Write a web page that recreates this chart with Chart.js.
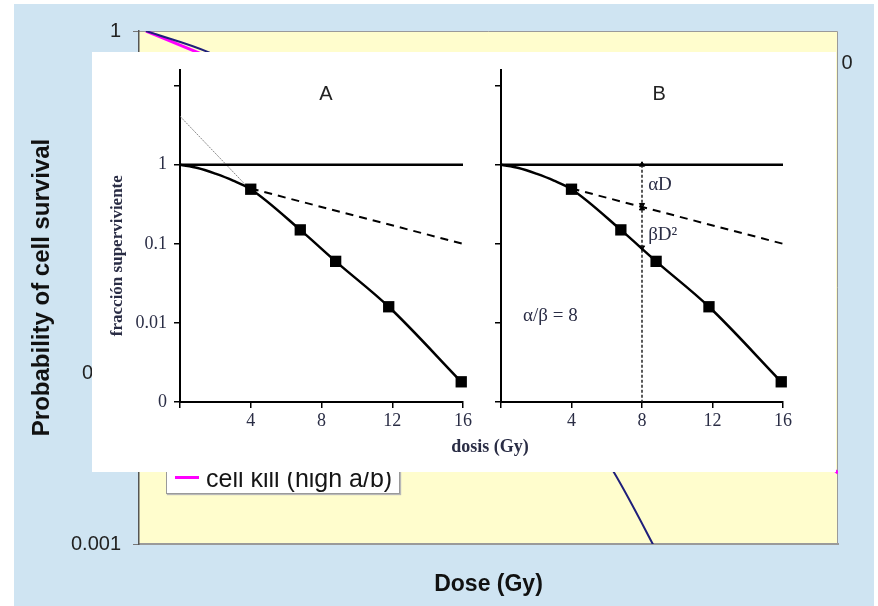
<!DOCTYPE html>
<html lang="es">
<head>
<meta charset="UTF-8">
<title>Probability of cell survival</title>
<script src="https://cdn.jsdelivr.net/npm/chart.js"></script>
<style>
  body { margin: 0; width: 878px; height: 606px; background: #fff; position: relative; overflow: hidden;
         font-family: "Liberation Sans", Arial, sans-serif; }
  #back { position: absolute; left: 14px; top: 4px; width: 860px; height: 602px; background: #cfe4f2; }
  #legend { position: absolute; left: 166px; top: 420px; width: 232px; height: 72px; background: #fff;
            border: 1px solid #9a9a9a; box-shadow: 1px 1px 1px #b8b8b8; }
  #legend .row { position: absolute; left: 39px; font-size: 25px; line-height: 30px; color: #151515; white-space: nowrap; }
  #legend .sw { position: absolute; left: 8px; width: 24px; height: 3px; }
  #overlay { position: absolute; left: 92px; top: 52px; width: 744px; height: 420px; background: #fff; }
  #overlay canvas { position: absolute; top: 0; }
  #dosis { position: absolute; left: 338px; top: 384px; width: 120px; text-align: center; line-height: 22px;
           font: bold 18px "Liberation Serif", "Times New Roman", serif; color: #2a2d45; }
</style>
</head>
<body>
  <div id="back"><canvas id="backChart" width="860" height="602"></canvas></div>

  <div id="legend">
    <div class="sw" style="top:25px;background:#1f1f7a"></div>
    <div class="row" style="top:12px">cell kill (low a/b)</div>
    <div class="sw" style="top:55px;background:#ff00ff"></div>
    <div class="row" style="top:42px">cell kill (high a/b)</div>
  </div>

  <div id="overlay">
    <canvas id="panelA" width="388" height="420" style="left:0"></canvas>
    <canvas id="panelB" width="356" height="420" style="left:388px"></canvas>
    <div id="dosis">dosis (Gy)</div>
  </div>

<script>
// background chart: survival vs dose
const lowDose  = [0.1, 1, 2, 3, 4, 5, 6, 6.8, 7.35, 8];
const lowSurv  = [1, 0.75, 0.46, 0.23, 0.092, 0.030, 0.0081, 0.0026, 0.001, 0.0003];
const highDose = [0.1, 0.76, 2, 4, 6, 8, 10];
const highSurv = [1, 0.774, 0.475, 0.18, 0.055, 0.0133, 0.0026];
const backTicks = [0.001, 0.01, 0.1, 1];

// inset panels A and B (fraccion superviviente vs dosis)
const curveDose = [0, 1, 2, 3, 4, 6.8, 8.8, 11.8, 15.9];
const curveSurv = [1, 0.91, 0.77, 0.63, 0.49, 0.15, 0.06, 0.016, 0.0018];
const measDose  = [4, 6.8, 8.8, 11.8, 15.9];
const measSurv  = [0.49, 0.15, 0.06, 0.016, 0.0018];
const alphaDose = [4, 16];
const alphaSurv = [0.5, 0.1];
const extrapDose = [0, 3.9];
const extrapSurv = [4.1, 0.5];
const unitDose = [0, 16];
const unitSurv = [1, 1];
const markDose = [8, 8];
const markSurv = [1, 0.001];
const arrowDose = [8, 8, 8, 8];
const arrowSurv = [1, 0.31, 0.28, 0.09];
const panelTicks = [0.001, 0.01, 0.1, 1, 10];
const panelTickText = { 0.001: '0', 0.01: '0.01', 0.1: '0.1', 1: '1' };

const pts = (xs, ys) => xs.map((x, i) => ({ x: x, y: ys[i] }));

// text drawn at data coordinates
function makeNotes(items) {
  return {
    id: 'notes',
    afterDatasetsDraw(chart) {
      const { ctx, scales } = chart;
      items.forEach(it => {
        ctx.save();
        ctx.font = it.font;
        ctx.fillStyle = it.color || '#2a2d45';
        ctx.textAlign = it.align || 'center';
        ctx.textBaseline = 'middle';
        ctx.translate(scales.x.getPixelForValue(it.x), scales.y.getPixelForValue(it.y));
        if (it.rotate) ctx.rotate(it.rotate * Math.PI / 180);
        ctx.fillText(it.text, 0, 0);
        ctx.restore();
      });
    }
  };
}

const plotFrame = {
  id: 'plotFrame',
  beforeDraw(chart) {
    const { ctx, chartArea: a } = chart;
    ctx.save();
    ctx.fillStyle = '#fffdcd';
    ctx.fillRect(a.left, a.top, a.width, a.height);
    ctx.strokeStyle = '#9a9a9a';
    ctx.lineWidth = 1;
    ctx.beginPath();
    ctx.moveTo(a.left, a.top + 0.5);
    ctx.lineTo(a.right - 0.5, a.top + 0.5);
    ctx.lineTo(a.right - 0.5, a.bottom);
    ctx.stroke();
    ctx.restore();
  }
};

new Chart(document.getElementById('backChart'), {
  type: 'line',
  data: {
    datasets: [
      { label: 'cell kill (low a/b)', data: pts(lowDose, lowSurv), borderColor: '#1f1f7a', borderWidth: 2,
        pointRadius: 0, cubicInterpolationMode: 'monotone' },
      { label: 'cell kill (high a/b)', data: pts(highDose, highSurv), borderColor: '#ff00ff', borderWidth: 3,
        pointRadius: 0, cubicInterpolationMode: 'monotone' }
    ]
  },
  options: {
    responsive: false,
    animation: false,
    layout: { padding: { top: 27, right: 36, left: 0, bottom: 0 } },
    plugins: { legend: { display: false }, tooltip: { enabled: false } },
    scales: {
      x: {
        type: 'linear', min: 0, max: 10,
        ticks: { display: false },
        grid: { display: false },
        border: { color: '#9a9a9a', width: 2 },
        title: { display: true, text: 'Dose (Gy)', color: '#111',
                 font: { family: 'Liberation Sans', size: 23, weight: 'bold', lineHeight: 1.2 },
                 padding: { top: 0, bottom: 8 } },
        afterFit: s => { s.height = 62; }
      },
      y: {
        type: 'logarithmic', min: 0.001, max: 1,
        afterBuildTicks: s => { s.ticks = backTicks.map(v => ({ value: v })); },
        ticks: { callback: v => String(v), color: '#222', padding: 12,
                 font: { family: 'Liberation Sans', size: 20 } },
        grid: { drawOnChartArea: false, tickLength: 6, color: '#777' },
        border: { color: '#555', width: 1.5 },
        title: { display: true, text: 'Probability of cell survival', color: '#111',
                 font: { family: 'Liberation Sans', size: 24, weight: 'bold', lineHeight: 1.2 },
                 padding: { top: 13.6, bottom: 0 } },
        afterFit: s => { s.width = 125; }
      }
    }
  },
  plugins: [plotFrame, makeNotes([
    { text: '0', x: 10.05, y: 0.65, align: 'left', color: '#222', font: '20px "Liberation Sans"' }
  ])]
});

function panelScales(yLabels, yWidth) {
  return {
    x: {
      type: 'linear', min: 0, max: 16,
      ticks: { stepSize: 4, callback: v => (v === 0 ? '' : v), color: '#2a2d45', padding: 2,
               maxRotation: 0, font: { family: 'Liberation Serif', size: 18 } },
      grid: { drawOnChartArea: false, tickLength: 6, color: '#000', lineWidth: 1.5 },
      border: { color: '#000', width: 2 },
      afterFit: s => { s.height = 70; }
    },
    y: {
      type: 'logarithmic', min: 0.001, max: Math.pow(10, 1.2),
      afterBuildTicks: s => { s.ticks = panelTicks.map(v => ({ value: v })); },
      ticks: { callback: v => (yLabels ? (panelTickText[v] || '') : ''), color: '#2a2d45', padding: 7,
               font: { family: 'Liberation Serif', size: 18 } },
      grid: { drawOnChartArea: false, tickLength: 6, color: '#000', lineWidth: 1.5 },
      border: { color: '#000', width: 2 },
      afterFit: s => { s.width = yWidth; }
    }
  };
}

function panelDatasets(withB) {
  const sets = [
    { data: pts(unitDose, unitSurv), borderColor: '#000', borderWidth: 2.5, pointRadius: 0 },
    { data: pts(alphaDose, alphaSurv), borderColor: '#000', borderWidth: 2, borderDash: [8, 6], pointRadius: 0 },
    { data: pts(curveDose, curveSurv), borderColor: '#000', borderWidth: 2.5, pointRadius: 0,
      cubicInterpolationMode: 'monotone' },
    { data: pts(measDose, measSurv), showLine: false, pointStyle: 'rect', pointRadius: 8, clip: false,
      pointBackgroundColor: '#000', pointBorderColor: '#000', pointBorderWidth: 0 }
  ];
  if (withB) {
    sets.push({ data: pts(markDose, markSurv), borderColor: '#222', borderWidth: 1.5, borderDash: [3, 2], pointRadius: 0 });
    sets.push({ data: pts(arrowDose, arrowSurv), showLine: false, pointStyle: 'triangle', pointRadius: 3,
                pointRotation: [0, 180, 0, 180], pointBackgroundColor: '#000', pointBorderColor: '#000' });
  } else {
    sets.push({ data: pts(extrapDose, extrapSurv), borderColor: '#888', borderWidth: 1, borderDash: [2, 1], pointRadius: 0 });
  }
  return sets;
}

const baseOpts = (pad, yLabels, yWidth) => ({
  responsive: false,
  animation: false,
  layout: { padding: pad },
  plugins: { legend: { display: false }, tooltip: { enabled: false } },
  scales: panelScales(yLabels, yWidth)
});

new Chart(document.getElementById('panelA'), {
  type: 'line',
  data: { datasets: panelDatasets(false) },
  options: baseOpts({ top: 14, right: 17, left: 0, bottom: 0 }, true, 88),
  plugins: [makeNotes([
    { text: 'A', x: 8.25, y: 7.7, font: '20px "Liberation Sans"', color: '#222' },
    { text: 'fracción superviviente', x: -3.5, y: 0.0708, rotate: -90,
      font: 'bold 17px "Liberation Serif"' }
  ])]
});

new Chart(document.getElementById('panelB'), {
  type: 'line',
  data: { datasets: panelDatasets(true) },
  options: baseOpts({ top: 14, right: 53, left: 0, bottom: 0 }, false, 21),
  plugins: [makeNotes([
    { text: 'B', x: 8.98, y: 7.7, font: '20px "Liberation Sans"', color: '#222' },
    { text: 'αD', x: 8.35, y: 0.55, align: 'left', font: '19px "Liberation Serif"' },
    { text: 'βD²', x: 8.35, y: 0.13, align: 'left', font: '19px "Liberation Serif"' },
    { text: 'α/β = 8', x: 1.25, y: 0.0123, align: 'left', font: '19px "Liberation Serif"' }
  ])]
});
</script>
</body>
</html>
